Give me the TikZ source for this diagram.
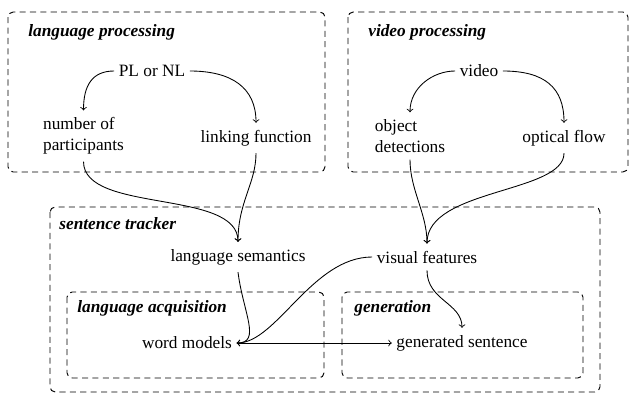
\documentclass[tikz,border=0pt]{standalone}
\usepackage{fontspec}
\setmainfont{Liberation Serif}
\begin{document}
\begin{tikzpicture}[x=0.578pt,y=-0.578pt,
  groupbox/.style={draw,line width=0.55pt,dash pattern=on 3.5pt off 2.5pt,rounded corners=3pt},
  grouplabel/.style={anchor=west,inner sep=0pt,font=\bfseries\itshape},
  item/.style={inner xsep=2.5pt,inner ysep=4pt},
  flow/.style={->,line width=0.5pt}]
\useasboundingbox (0,0) rectangle (632,394);

% group frames
\draw[groupbox] (8,12) rectangle (325,172);
\draw[groupbox] (348,12) rectangle (628,172);
\draw[groupbox] (50,207) rectangle (600,392);
\draw[groupbox] (67,292) rectangle (324,378);
\draw[groupbox] (342,292) rectangle (583,378);

% group titles
\node[grouplabel] (tlp) at (28,32) {language processing};
\node[grouplabel] (tvp) at (368,32) {video processing};
\node[grouplabel] (tst) at (59,224) {sentence tracker};
\node[grouplabel] (tla) at (77,308) {language acquisition};
\node[grouplabel] (tgen) at (354,308) {generation};

% language side
\node[item] (pl) at (152,71) {PL or NL};
\node[item,align=left] (np) at (83.5,136) {number of\\participants};
\node[item] (lf) at (256,138) {linking function};

% video side
\node[item] (vid) at (479,71) {video};
\node[item,align=left] (od) at (410,136) {object\\detections};
\node[item] (of) at (564,138) {optical flow};

% sentence tracker
\node[item] (ls) at (238,257) {language semantics};
\node[item] (vf) at (427,257) {visual features};
\node[item] (wm) at (187,343) {word models};
\node[item] (gs) at (462,343) {generated sentence};

% connectors
\draw[flow] (pl.west) .. controls +(-22,0) and +(0,-25) .. (np.north);
\draw[flow] (pl.east) .. controls +(42,0) and +(0,-35) .. (lf.north);
\draw[flow] (vid.west) .. controls +(-22,0) and +(0,-25) .. (od.north);
\draw[flow] (vid.east) .. controls +(42,0) and +(0,-35) .. (of.north);

\draw[flow] (np.south) .. controls +(0,52) and +(0,-53) .. (ls.north);
\draw[flow] (lf.south) .. controls +(0,30) and +(0,-40) .. (ls.north);
\draw[flow] (od.south) .. controls +(0,30) and +(0,-30) .. (vf.north);
\draw[flow] (of.south) .. controls +(0,40) and +(0,-55) .. (vf.north);

\draw[flow] (ls.south) .. controls +(5,40) and +(25,0) .. (wm.east);
\draw[flow] (vf.west) .. controls +(-60,0) and +(40,0) .. (wm.east);
\draw[flow] (wm.east) -- (gs.west);
\draw[flow] (vf.south) .. controls +(0,30) and +(0,-25) .. (gs.north);
\end{tikzpicture}
\end{document}
